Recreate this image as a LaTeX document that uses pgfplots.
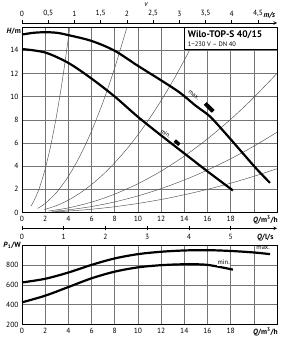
\documentclass[border=0pt]{standalone}
\usepackage{fontspec}
\setmainfont{PT Sans}
\usepackage{pgfplots}
\pgfplotsset{compat=1.18}

\definecolor{gridgray}{HTML}{747474}
\definecolor{syscurve}{HTML}{505050}

\newcommand{\tlfont}{\fontsize{7.5}{8}\selectfont}

\pgfplotsset{
  pumpchart/.style={
    scale only axis, width=255pt,
    xmin=0, xmax=22,
    axis line style={black, line width=0.8pt},
    grid=major, grid style={gridgray, line width=0.5pt},
    major tick length=0pt,
    ticklabel style={font=\tlfont},
    /pgf/number format/assume math mode=true,
    clip=false,
  },
  scaleaxis/.style={
    scale only axis, width=255pt, height=1pt,
    xmin=0, xmax=22, ymin=0, ymax=1,
    axis y line=none,
    axis line style={-, black, line width=0.6pt},
    tick style={black, line width=0.6pt},
    ticklabel style={font=\tlfont},
  },
  thick curve/.style={black, line width=2.2pt, smooth, no marks},
  system curve/.style={syscurve, line width=0.45pt, smooth, no marks},
}

\begin{document}
\begin{tikzpicture}
\useasboundingbox (0,0) rectangle (282pt,-340pt);

% ---- velocity scale (DN 40) above the head chart ----
\begin{axis}[scaleaxis, at={(22pt,-23pt)}, anchor=north west,
  axis x line=top, tick align=outside, major tick length=2.8pt,
  xtick={0,2.262,4.524,6.786,9.048,11.310,13.572,15.834,18.096,20.358},
  xticklabels={0,{0,5},1,{1,5},2,{2,5},3,{3,5},4,{4,5}}]
\end{axis}
\node[font=\fontsize{7.5}{8}\selectfont\itshape] at (146pt,-5pt) {v};
\node[font=\fontsize{7.5}{8}\selectfont\bfseries\itshape, anchor=west] at (260pt,-15pt) {m/s};

% ---- head H over flow Q ----
\begin{axis}[pumpchart, at={(22pt,-27pt)}, anchor=north west, height=185.5pt,
  ymin=0, ymax=16,
  xtick={0,2,...,20}, xticklabels={0,2,4,6,8,10,12,14,16,18,},
  ytick={0,2,...,14}]

% system curves H = k Q^2
\addplot[system curve] coordinates {(0.78,0.57) (1.0,0.94) (1.5,2.115) (2.0,3.76) (2.5,5.875) (3.0,8.46) (3.5,11.515) (4.0,15.04) (4.126,16.0)};
\addplot[system curve] coordinates {(1.35,0.355) (2,0.78) (3,1.755) (4,3.12) (5,4.875) (6,7.02) (7,9.555) (8,12.48) (9.06,16.0)};
\addplot[system curve] coordinates {(1.93,0.25) (3,0.603) (4,1.072) (5,1.675) (6,2.412) (7,3.283) (8,4.288) (9,5.427) (10,6.7) (11,8.107) (12,9.648) (13,11.323) (14,13.132) (15,15.075) (15.45,16.0)};
\addplot[system curve] coordinates {(2.28,0.129) (4,0.397) (6,0.893) (8,1.587) (10,2.48) (12,3.571) (14,4.861) (16,6.349) (18,8.035) (20,9.92) (22,12.003)};
\addplot[system curve] coordinates {(2.57,0.094) (4,0.229) (6,0.515) (8,0.915) (10,1.43) (12,2.059) (14,2.803) (16,3.661) (18,4.633) (20,5.72) (22,6.921)};
\addplot[system curve] coordinates {(2.8,0.061) (4,0.125) (6,0.281) (8,0.499) (10,0.78) (12,1.123) (14,1.529) (16,1.997) (18,2.527) (20,3.12) (22,3.775)};

% pump curves
\addplot[thick curve] coordinates {(0,15.35) (1,15.5) (2,15.55) (3,15.5) (4,15.3) (6,14.8) (8,13.95) (10,12.65) (12,11.4) (13.6,10.35) (15,9.2) (16.2,8.3) (17.4,7.0) (18.8,5.4) (20.2,3.8) (21.4,2.55)};
\addplot[thick curve] coordinates {(0,14.1) (2,13.8) (4,12.9) (6,11.55) (8,10.0) (10,8.25) (12,6.65) (14,5.1) (16,3.55) (18.2,1.9)};

% speed setting markers
\addplot[black, line width=4pt, no marks] coordinates {(15.8,9.4) (16.5,8.72)};
\addplot[black, line width=3.5pt, no marks] coordinates {(13.18,6.2) (13.58,5.85)};
\node[font=\fontsize{6}{7}\selectfont, rotate=-40, inner sep=0pt] at (axis cs:14.82,10.15) {max.};
\node[font=\fontsize{6}{7}\selectfont, rotate=-36, inner sep=0pt] at (axis cs:12.4,6.8) {min.};

% type plate
\draw[black, line width=0.6pt, fill=white] (axis cs:14,14.1) rectangle (axis cs:22,16);
\node[anchor=west, font=\fontsize{9.5}{10}\selectfont\bfseries, inner sep=0pt] at (axis cs:14.3,15.3) {Wilo-TOP-S 40/15};
\node[anchor=west, font=\fontsize{6.5}{7}\selectfont, inner sep=0pt] at (axis cs:14.3,14.5) {1\textasciitilde 230 V – DN 40};

\node[anchor=east, font=\fontsize{7.5}{8}\selectfont\bfseries, inner sep=1pt] at ([yshift=-4.5pt]rel axis cs:0,1) {\textit{H}/m};
\node[anchor=north, font=\fontsize{7.5}{8}\selectfont\bfseries, inner sep=0pt] at ([yshift=-3.5pt]axis cs:21.0,0) {\textit{Q}/m\textsuperscript{3}/h};
\end{axis}

% ---- flow scale in l/s ----
\begin{axis}[scaleaxis, at={(22pt,-228.3pt)}, anchor=south west,
  axis x line=bottom, tick align=center, major tick length=4pt,
  xtick={0,3.6,7.2,10.8,14.4,18}, xticklabels={0,1,2,3,4,5}]
\end{axis}
\node[font=\fontsize{7.5}{8}\selectfont\bfseries, anchor=east] at (277pt,-238pt) {\textit{Q}/l/s};

% ---- power input P1 over flow Q ----
\begin{axis}[pumpchart, at={(22pt,-245pt)}, anchor=north west, height=79.5pt,
  ymin=200, ymax=1000,
  xtick={0,2,...,20}, xticklabels={0,2,4,6,8,10,12,14,16,18,},
  ytick={200,400,600,800}]
\addplot[thick curve] coordinates {(0,623) (2,660) (4,723) (6,800) (8,865) (10,908) (12,932) (14,945) (16,948) (18,940) (20,925) (21.4,908)};
\addplot[thick curve] coordinates {(0,423) (2,490) (4,577) (6,665) (8,732) (10,775) (12,797) (14,806) (16,800) (18.2,752)};
\node[font=\fontsize{6.5}{7}\selectfont, inner sep=0.6pt] at (axis cs:20.8,970) {max.};
\node[font=\fontsize{6.5}{7}\selectfont, fill=white, inner sep=0.6pt] at (axis cs:17.4,822) {min.};
\node[anchor=east, font=\fontsize{7.5}{8}\selectfont\bfseries, inner sep=1pt] at (rel axis cs:0,1) {\textit{P}\textsubscript{1}/W};
\node[anchor=north, font=\fontsize{7.5}{8}\selectfont\bfseries, inner sep=0pt] at ([yshift=-3.5pt]axis cs:21.0,200) {\textit{Q}/m\textsuperscript{3}/h};
\end{axis}
\end{tikzpicture}
\end{document}
